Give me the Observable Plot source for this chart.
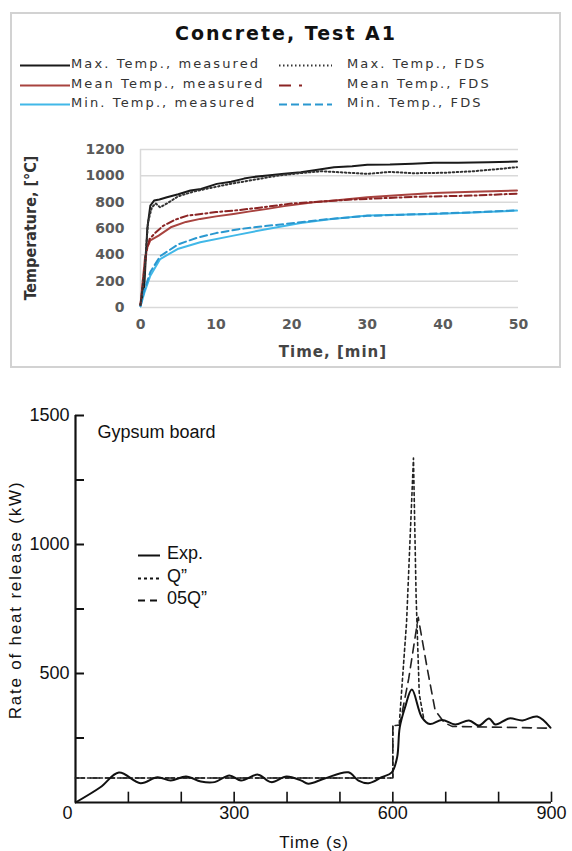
<!DOCTYPE html>
<html><head><meta charset="utf-8">
<script src="https://cdn.jsdelivr.net/npm/d3@7"></script>
<script src="https://cdn.jsdelivr.net/npm/@observablehq/plot@0.6"></script>
<style>
html,body{margin:0;padding:0;background:#fff}
body{width:572px;height:851px;position:relative;overflow:hidden;font-family:"DejaVu Sans",sans-serif}
.abs{position:absolute;white-space:nowrap}
#box{left:10px;top:12px;width:551px;height:356px;border:2px solid #d2d2d2;box-sizing:border-box}
#title{left:0;width:572px;top:22px;text-align:center;font:bold 19px "DejaVu Sans",sans-serif;letter-spacing:2px;color:#111}
.lg{font:13px "DejaVu Sans",sans-serif;letter-spacing:2.1px;color:#333;transform:translateY(-50%)}
.sw{position:absolute;transform:translateY(-50%)}
#ylab1{left:30px;top:228px;transform:translate(-50%,-50%) rotate(-90deg);font:bold 16px "Liberation Sans Narrow","DejaVu Sans Condensed",sans-serif;color:#333}
#xlab1{left:333px;top:352px;transform:translate(-50%,-50%);font:bold 15px "DejaVu Sans",sans-serif;letter-spacing:1px;color:#444}
#ylab2{left:16px;top:600px;transform:translate(-50%,-50%) rotate(-90deg);font:17px "Liberation Sans",sans-serif;letter-spacing:1.8px;color:#111}
#xlab2{left:314px;top:843px;transform:translate(-50%,-50%);font:17px "Liberation Sans",sans-serif;letter-spacing:1px;color:#111}
.lg2{font:18px "Liberation Sans",sans-serif;color:#111;transform:translateY(-50%)}
#topPlot{left:0;top:130px}
#botPlot{left:0;top:380px}
</style></head>
<body>
<div id="box" class="abs"></div>
<div id="title" class="abs">Concrete, Test A1</div>
<div id="legend1"></div>
<div id="topPlot" class="abs"></div>
<div id="ylab1" class="abs">Temperature, [°C]</div>
<div id="xlab1" class="abs">Time, [min]</div>
<div id="botPlot" class="abs"></div>
<div id="ylab2" class="abs">Rate of heat release (kW)</div>
<div id="xlab2" class="abs">Time (s)</div>
<div id="legend2"></div>
<script>
// ---------- Top chart data (Concrete, Test A1) ----------
const tempTicks = [0, 200, 400, 600, 800, 1000, 1200];
const minTicks = [0, 10, 20, 30, 40, 50];

const maxMeasT = [0, 0.5, 0.9, 1.3, 1.8, 2.5, 3.5, 5, 6.6, 8, 10.1, 12, 13.7, 15, 16.8, 19, 21.2, 23, 25.6, 28, 30, 33, 36, 38.8, 42, 46, 49.8];
const maxMeasV = [20, 160, 600, 774, 812, 820, 837, 860, 888, 900, 939, 955, 979, 992, 1002, 1015, 1027, 1042, 1066, 1072, 1084, 1086, 1092, 1099, 1100, 1104, 1109];
const maxFdsT = [0, 0.5, 1, 1.5, 2, 2.6, 3.5, 5, 7, 9, 12, 15, 18, 21, 24, 27, 30, 33, 36, 40, 44, 47.6, 49.8];
const maxFdsV = [20, 250, 650, 760, 790, 761, 790, 845, 880, 905, 940, 970, 1000, 1020, 1035, 1025, 1015, 1030, 1020, 1023, 1035, 1053, 1066];
const meanMeasT = [0, 0.3, 0.6, 0.9, 1.3, 2.4, 4, 6, 7.9, 10, 12.3, 14.5, 16.8, 19, 22.9, 26, 30, 34, 38.8, 44, 49.8];
const meanMeasV = [20, 200, 380, 457, 510, 546, 609, 650, 673, 692, 710, 730, 749, 770, 799, 815, 837, 853, 870, 880, 888];
const meanFdsT = [0, 0.4, 0.8, 1.2, 2, 3, 4.5, 6.2, 8, 10, 13, 16, 20, 24, 28, 32, 36, 40, 44, 48, 49.8];
const meanFdsV = [20, 230, 430, 520, 570, 620, 665, 698, 710, 725, 740, 760, 790, 805, 820, 830, 840, 845, 850, 860, 865];
const minMeasT = [0, 0.5, 1.3, 2.6, 4.9, 7.9, 12.3, 16.8, 21.2, 25, 30, 34, 38.8, 44, 49.8];
const minMeasV = [10, 110, 241, 368, 444, 495, 546, 597, 642, 670, 698, 705, 711, 722, 736];
const minFdsT = [0, 0.5, 1.3, 2.6, 5, 7.5, 10, 13, 16, 20, 25, 30, 35, 40, 45, 49.8];
const minFdsV = [10, 130, 270, 390, 480, 530, 565, 595, 615, 640, 672, 696, 705, 715, 725, 738];

const topLabels = ["Max. Temp., measured", "Mean Temp., measured", "Min. Temp., measured", "Max. Temp., FDS", "Mean Temp., FDS", "Min. Temp., FDS"];

// ---------- Bottom chart data (Gypsum board) ----------
const hrrLabelTicks = [500, 1000, 1500];
const hrrMinorTicks = [250, 500, 750, 1000, 1250, 1500];
const secLabelTicks = [300, 600, 900];
const secZeroTick = [0];
const secMinorTicks = [100, 200, 300, 400, 500, 600, 700, 800, 900];

const expT = [0, 47, 82, 123, 155, 180, 209, 237, 263, 291, 313, 345, 370, 399, 427, 440, 471, 516, 535, 554, 579, 598, 608, 613, 623, 636, 655, 670, 693, 718, 744, 763, 782, 794, 820, 845, 873, 898];
const expV = [0, 59, 116, 75, 98, 85, 101, 81, 79, 105, 85, 108, 79, 101, 85, 73, 93, 117, 85, 75, 98, 117, 174, 290, 368, 438, 330, 304, 320, 302, 318, 298, 326, 302, 326, 318, 333, 290];
const qT = [0, 600, 600, 612, 626, 639, 644, 650, 658];
const qV = [95, 95, 298, 300, 700, 1335, 800, 420, 330];
const halfQT = [0, 600, 600, 613, 630, 648, 665, 680, 697, 712, 900];
const halfQV = [95, 95, 298, 300, 480, 718, 520, 357, 310, 295, 288];

const botLabels = ["Exp.", "Q\u201d", "05Q\u201d"];

const plain = d => String(d);

// ---------- Top chart ----------
const pairs = (a, b) => a.map((t, i) => [t, b[i]]);
const topPlot = Plot.plot({
  width: 572, height: 240,
  marginLeft: 140, marginRight: 54, marginTop: 19, marginBottom: 63,
  x: {domain: [0, 50]},
  y: {domain: [0, 1200]},
  style: {fontFamily: "DejaVu Sans", fontSize: "14px", fontWeight: "bold", color: "#5a5a5a", background: "transparent"},
  marks: [
    Plot.gridY(tempTicks, {stroke: "#d9d9d9", strokeOpacity: 1, strokeWidth: 1.5}),
    Plot.ruleX([0], {y1: 0, y2: 1200, stroke: "#d9d9d9", strokeWidth: 1.5}),
    Plot.axisY(tempTicks, {tickSize: 0, tickPadding: 16, label: null, tickFormat: plain}),
    Plot.axisX(minTicks, {tickSize: 0, tickPadding: 12, label: null, tickFormat: plain}),
    Plot.line(pairs(minMeasT, minMeasV), {stroke: "#41b8e8", strokeWidth: 2}),
    Plot.line(pairs(meanMeasT, meanMeasV), {stroke: "#a8433f", strokeWidth: 2}),
    Plot.line(pairs(maxMeasT, maxMeasV), {stroke: "#1a1a1a", strokeWidth: 2}),
    Plot.line(pairs(minFdsT, minFdsV), {stroke: "#2a98d0", strokeWidth: 2, strokeDasharray: "7,4"}),
    Plot.line(pairs(meanFdsT, meanFdsV), {stroke: "#8b2424", strokeWidth: 2, strokeDasharray: "7,3,2,3"}),
    Plot.line(pairs(maxFdsT, maxFdsV), {stroke: "#333", strokeWidth: 2, strokeDasharray: "1.5,2.5"})
  ]
});
document.getElementById("topPlot").appendChild(topPlot);

// top legend
const lg1 = document.getElementById("legend1");
const topStyles = [
  {c: "#1a1a1a", d: null}, {c: "#a8433f", d: null}, {c: "#41b8e8", d: null},
  {c: "#333", d: "1.5,2.5"}, {c: "#8b2424", d: "12,8,3,30"}, {c: "#2a98d0", d: "8,4"}
];
topLabels.forEach((lab, i) => {
  const col = i < 3 ? 0 : 1, row = i % 3;
  const y = 63 + row * 19.5;
  const lx = col === 0 ? 20 : 279, lw = col === 0 ? 50 : 53;
  const tx = col === 0 ? 71 : 347;
  const s = topStyles[i];
  const sv = document.createElement("div");
  sv.className = "sw"; sv.style.left = lx + "px"; sv.style.top = y + "px";
  sv.innerHTML = `<svg width="${lw}" height="6"><line x1="0" x2="${lw}" y1="3" y2="3" stroke="${s.c}" stroke-width="2" ${s.d ? `stroke-dasharray="${s.d}"` : ""}/></svg>`;
  lg1.appendChild(sv);
  const t = document.createElement("div");
  t.className = "abs lg"; t.style.left = tx + "px"; t.style.top = y + "px";
  t.textContent = lab;
  lg1.appendChild(t);
});

// ---------- Bottom chart ----------
const botPlot = Plot.plot({
  width: 572, height: 471,
  marginLeft: 75, marginRight: 21, marginTop: 35, marginBottom: 49,
  x: {domain: [0, 900]},
  y: {domain: [0, 1500]},
  style: {fontFamily: "Liberation Sans", fontSize: "18px", color: "#111", background: "transparent"},
  marks: [
    Plot.ruleY(hrrMinorTicks, {x1: 0, x2: 17, stroke: "#111", strokeWidth: 2}),
    Plot.ruleX(secMinorTicks, {y1: 0, y2: 40, stroke: "#111", strokeWidth: 1.6}),
    Plot.ruleX([0], {y1: 0, y2: 1500, stroke: "#111", strokeWidth: 2.2}),
    Plot.ruleY([0], {x1: 0, x2: 900, stroke: "#111", strokeWidth: 2.2}),
    Plot.axisY(hrrLabelTicks, {tickSize: 0, tickPadding: 6, label: null, tickFormat: plain}),
    Plot.axisX(secLabelTicks, {tickSize: 0, tickPadding: 4, label: null, tickFormat: plain}),
    Plot.axisX(secZeroTick, {tickSize: 0, tickPadding: 4, label: null, tickFormat: plain, dx: -8}),
    Plot.line(pairs(halfQT, halfQV), {stroke: "#222", strokeWidth: 1.6, strokeDasharray: "9,6"}),
    Plot.line(pairs(qT, qV), {stroke: "#222", strokeWidth: 1.6, strokeDasharray: "3,3"}),
    Plot.line(pairs(expT, expV), {stroke: "#111", strokeWidth: 2, curve: "catmull-rom"}),
    Plot.text(["Gypsum board"], {frameAnchor: "top-left", dx: 22, dy: 17, textAnchor: "start", lineAnchor: "middle", fontSize: 18})
  ]
});
document.getElementById("botPlot").appendChild(botPlot);

// bottom legend
const lg2 = document.getElementById("legend2");
const botDash = [null, "3,3", "7,5"];
botLabels.forEach((lab, i) => {
  const y = 553 + i * 22.5;
  const sv = document.createElement("div");
  sv.className = "sw"; sv.style.left = "138px"; sv.style.top = y + "px";
  sv.innerHTML = `<svg width="22" height="6"><line x1="0" x2="22" y1="3" y2="3" stroke="#111" stroke-width="2" ${botDash[i] ? `stroke-dasharray="${botDash[i]}"` : ""}/></svg>`;
  lg2.appendChild(sv);
  const t = document.createElement("div");
  t.className = "abs lg2"; t.style.left = "167px"; t.style.top = y + "px";
  t.textContent = lab;
  lg2.appendChild(t);
});
</script>
</body></html>
